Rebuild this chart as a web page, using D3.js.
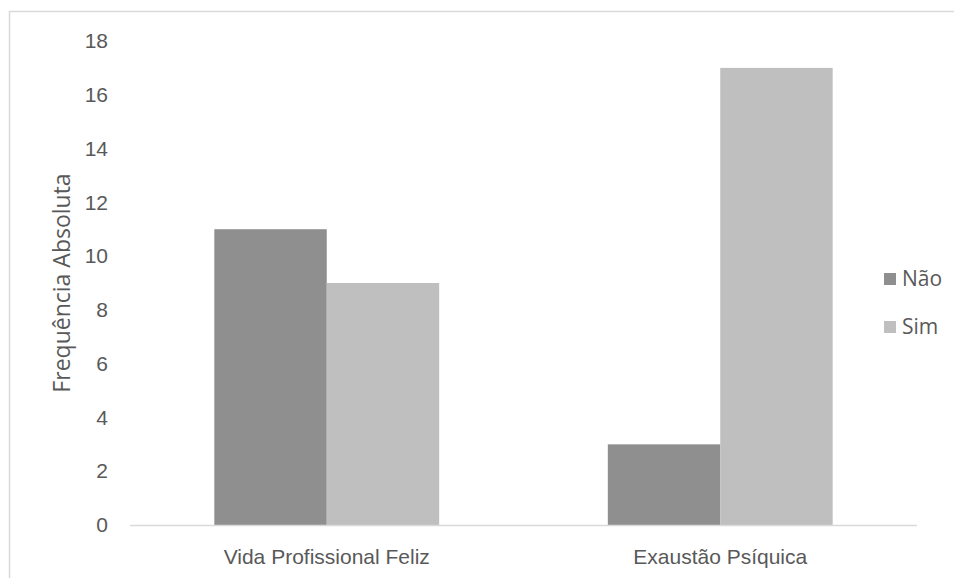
<!DOCTYPE html>
<html>
<head>
<meta charset="utf-8">
<script src="https://cdn.jsdelivr.net/npm/d3@7"></script>
<style>
  html, body { margin: 0; padding: 0; background: #fff; }
  svg { display: block; font-family: "Open Sans", "Liberation Sans", sans-serif; }
</style>
</head>
<body>
<svg id="chart" width="954" height="578"></svg>
<script>
// Grupos e séries
const categories = ["Vida Profissional Feliz", "Exaustão Psíquica"];
const seriesNames = ["Não", "Sim"];
const naoValues = [11, 3];
const simValues = [9, 17];
const yTicks = [0, 2, 4, 6, 8, 10, 12, 14, 16, 18];
const seriesColors = ["#8f8f8f", "#bfbfbf"];

const svg = d3.select("#chart");
const W = 954, H = 578;

// moldura do gráfico
svg.append("rect")
  .attr("x", 9.5).attr("y", 11.5)
  .attr("width", W).attr("height", H)
  .attr("fill", "none").attr("stroke", "#d9d9d9").attr("stroke-width", 1.5);

const plot = { left: 130, right: 917, top: 41, bottom: 525 };

const x0 = d3.scaleBand().domain(categories).range([plot.left, plot.right]).paddingInner(0).paddingOuter(0);
const bw = x0.bandwidth() / 3.5;
const x1 = d3.scaleBand().domain(seriesNames).range([0, bw * 2]);
const y = d3.scaleLinear().domain([0, 18]).range([plot.bottom, plot.top]);

const rows = categories.map((c, i) => ({ cat: c, vals: [naoValues[i], simValues[i]] }));

const groups = svg.append("g").selectAll("g").data(rows).join("g")
  .attr("transform", d => `translate(${x0(d.cat) + (x0.bandwidth() - bw * 2) / 2},0)`);

groups.selectAll("rect").data(d => d.vals.map((v, j) => ({ s: seriesNames[j], v, j })))
  .join("rect")
  .attr("x", d => x1(d.s))
  .attr("width", x1.bandwidth())
  .attr("y", d => y(d.v))
  .attr("height", d => y(0) - y(d.v))
  .attr("fill", d => seriesColors[d.j]);

// eixo Y (apenas rótulos)
const yAxis = svg.append("g").attr("transform", `translate(${plot.left - 22},0)`)
  .call(d3.axisLeft(y).tickValues(yTicks).tickSize(0).tickPadding(0));
yAxis.select(".domain").remove();
yAxis.selectAll("text").attr("fill", "#595959").attr("font-size", 21);

// linha de base
svg.append("line")
  .attr("x1", plot.left).attr("x2", plot.right)
  .attr("y1", y(0) + 0.5).attr("y2", y(0) + 0.5)
  .attr("stroke", "#d9d9d9").attr("stroke-width", 1.5);

// eixo X (rótulos das categorias)
const xAxis = svg.append("g").attr("transform", `translate(0,${plot.bottom + 24})`)
  .call(d3.axisBottom(x0).tickSize(0).tickPadding(0));
xAxis.select(".domain").remove();
xAxis.selectAll("text").attr("fill", "#595959").attr("font-size", 21).attr("dy", "0.71em");

// título do eixo Y
svg.append("text")
  .attr("transform", `translate(70,${(plot.top + plot.bottom) / 2}) rotate(-90)`)
  .attr("text-anchor", "middle")
  .attr("fill", "#595959").attr("font-size", 23)
  .text("Frequência Absoluta");

// legenda
const legend = svg.append("g").selectAll("g").data(seriesNames).join("g")
  .attr("transform", (d, i) => `translate(884,${273 + i * 48})`);
legend.append("rect").attr("width", 12).attr("height", 12).attr("fill", (d, i) => seriesColors[i]);
legend.append("text").attr("x", 18).attr("y", 6).attr("dy", "0.35em")
  .attr("fill", "#595959").attr("font-size", 21).text(d => d);
</script>
</body>
</html>
